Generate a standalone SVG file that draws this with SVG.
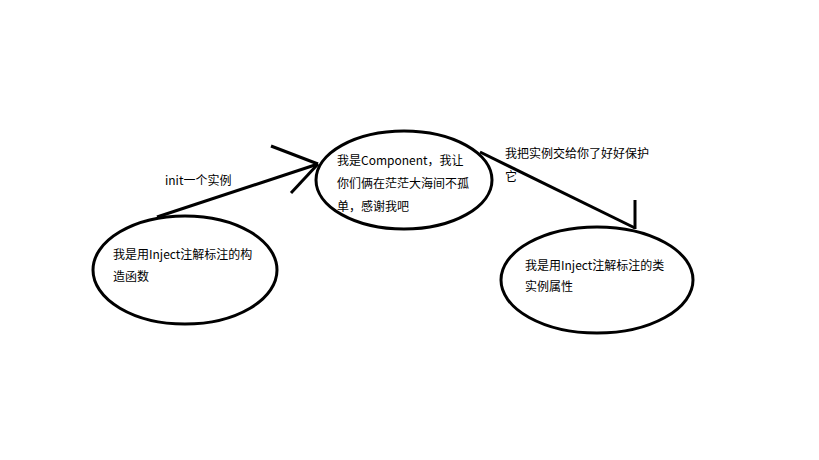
<svg xmlns="http://www.w3.org/2000/svg" width="819" height="460" viewBox="0 0 819 460">
<style>
.n{fill:none;stroke:#000;stroke-width:3}
.c{fill:none;stroke:#000;stroke-width:3;stroke-linecap:butt}
text{font-family:"Microsoft YaHei","Noto Sans CJK SC",sans-serif;font-size:12px;fill:#000}
</style>
<rect width="819" height="460" fill="#fff"/>
<g id="connectors">
<line class="c" x1="157" y1="217" x2="318" y2="164"/>
<line class="c" x1="271" y1="146" x2="318" y2="164"/>
<line class="c" x1="291" y1="193" x2="318" y2="164"/>
<line class="c" x1="480" y1="152" x2="635" y2="228"/>
<line class="c" x1="635" y1="200" x2="635" y2="229"/>
<text x="165" y="185">init一个实例</text>
<text x="505" y="158">我把实例交给你了好好保护</text>
<text x="505" y="181">它</text>
</g>
<g id="node-constructor">
<ellipse class="n" cx="185" cy="270" rx="92" ry="54"/>
<text x="113" y="259">我是用Inject注解标注的构</text>
<text x="113" y="281">造函数</text>
</g>
<g id="node-component">
<ellipse class="n" cx="404" cy="180" rx="88" ry="49"/>
<text x="337" y="165">我是Component，我让</text>
<text x="337" y="188">你们俩在茫茫大海间不孤</text>
<text x="337" y="211">单，感谢我吧</text>
</g>
<g id="node-field">
<ellipse class="n" cx="597" cy="280" rx="96" ry="53"/>
<text x="525" y="270">我是用Inject注解标注的类</text>
<text x="525" y="291">实例属性</text>
</g>
</svg>
